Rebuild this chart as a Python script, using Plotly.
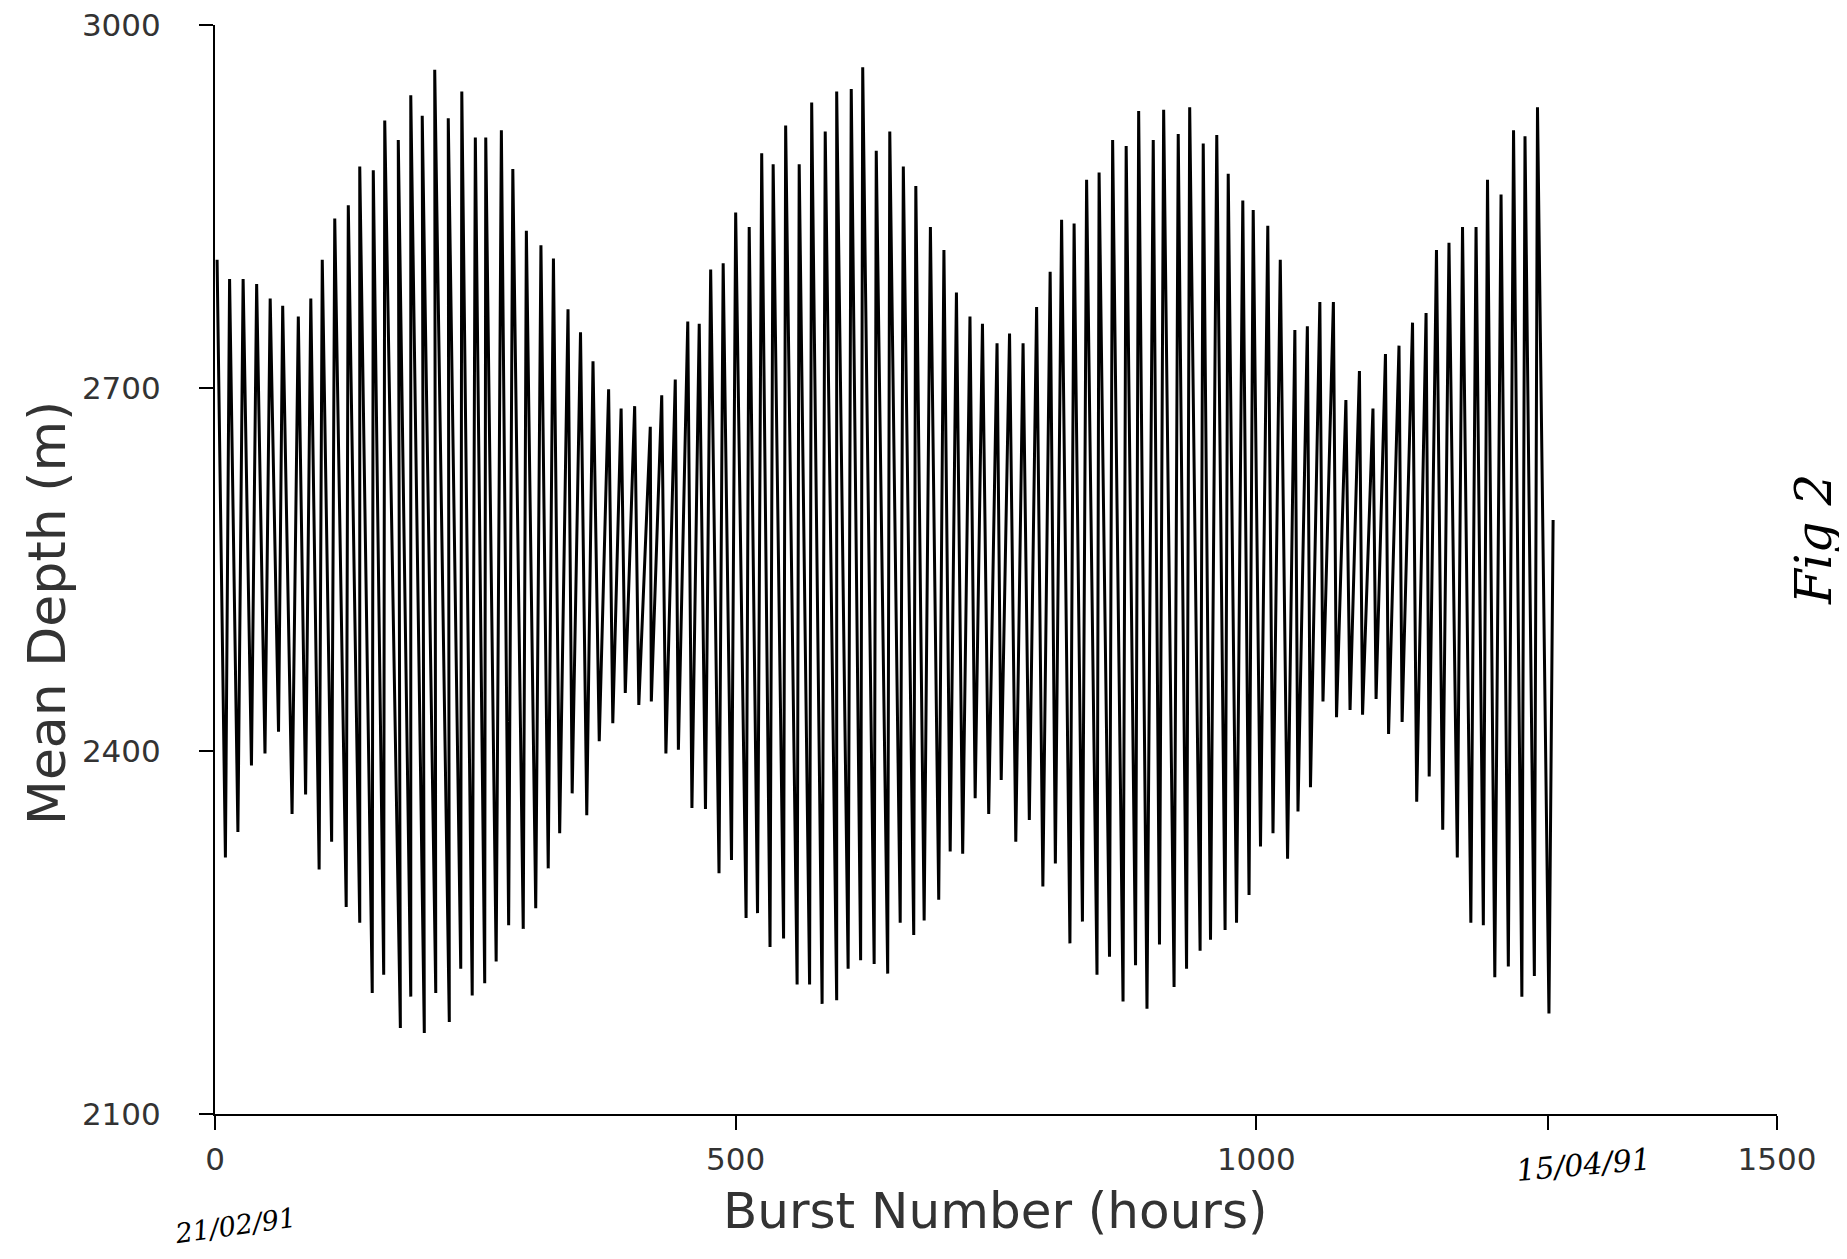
import plotly.graph_objects as go

# ---- data (burst number in hours, mean depth in m) ----
high_hours = [2, 14, 27, 40, 53, 65, 80, 92, 103, 115, 128, 139, 152, 163, 176, 188, 199, 211, 224, 237, 250, 260, 275, 286, 299, 313,
              325, 339, 351, 363, 378, 390, 403, 418, 429, 442, 454, 465, 476, 488, 500, 513, 525, 536, 548, 561, 573, 586, 597, 611, 622, 635,
              648, 661, 673, 687, 700, 712, 725, 737, 751, 763, 776, 789, 802, 813, 825, 837, 849, 862, 875, 887, 901, 911, 925, 936, 949,
              962, 973, 987, 997, 1011, 1023, 1037, 1049, 1061, 1074, 1086, 1099, 1112, 1124, 1137, 1150, 1163, 1173, 1185, 1198, 1211, 1222, 1235, 1247, 1258, 1270, 1285]
high_depth = [2806, 2790, 2790, 2786, 2774, 2768, 2759, 2774, 2806, 2840, 2851, 2883, 2880, 2921, 2905, 2942, 2925, 2963, 2923, 2945, 2907, 2907, 2913, 2881, 2830, 2818,
              2807, 2765, 2746, 2722, 2699, 2683, 2685, 2668, 2694, 2707, 2755, 2753, 2798, 2803, 2845, 2833, 2894, 2885, 2917, 2885, 2936, 2912, 2945, 2947, 2965, 2896,
              2912, 2883, 2867, 2833, 2814, 2779, 2759, 2753, 2737, 2745, 2737, 2767, 2796, 2839, 2836, 2872, 2878, 2905, 2900, 2929, 2905, 2930, 2910, 2932, 2902,
              2909, 2877, 2855, 2847, 2834, 2806, 2748, 2751, 2771, 2771, 2690, 2714, 2683, 2728, 2735, 2754, 2762, 2814, 2820, 2833, 2833, 2872, 2860, 2913, 2908, 2932, 2591]

low_hours = [10, 22, 35, 48, 61, 74, 87, 100, 112, 126, 139, 151, 162, 178, 188, 201, 212, 225, 236, 247, 259, 270, 282, 296, 308,
             320, 331, 343, 357, 369, 382, 394, 407, 419, 433, 445, 458, 471, 484, 496, 510, 521, 533, 546, 559, 571, 583, 597, 608, 620,
             633, 646, 658, 671, 681, 695, 706, 718, 730, 743, 755, 769, 782, 795, 807, 821, 833, 847, 859, 872, 884, 895, 907, 921, 933, 946,
             956, 970, 981, 993, 1004, 1016, 1030, 1040, 1052, 1064, 1077, 1090, 1102, 1115, 1127, 1140, 1154, 1166, 1179, 1193, 1206, 1218, 1229, 1242, 1255, 1267, 1281]
low_depth = [2312, 2333, 2388, 2398, 2416, 2348, 2364, 2302, 2325, 2271, 2258, 2200, 2215, 2171, 2197, 2167, 2200, 2176, 2220, 2198, 2208, 2226, 2256, 2253, 2270,
             2303, 2332, 2365, 2347, 2408, 2423, 2448, 2438, 2441, 2398, 2401, 2353, 2352, 2299, 2310, 2262, 2266, 2238, 2245, 2207, 2207, 2191, 2194, 2220, 2227,
             2224, 2216, 2258, 2248, 2260, 2277, 2317, 2315, 2361, 2348, 2376, 2325, 2343, 2288, 2307, 2241, 2259, 2215, 2230, 2193, 2223, 2187, 2240, 2205, 2220, 2235,
             2244, 2252, 2258, 2281, 2321, 2332, 2311, 2350, 2370, 2441, 2428, 2434, 2430, 2443, 2414, 2424, 2358, 2379, 2335, 2312, 2258, 2256, 2213, 2222, 2197, 2214, 2183]

x_tickvals = [0, 500, 1000, 1280, 1500]
x_ticktext = ["0", "500", "1000", "", "1500"]
y_tickvals = [2100, 2400, 2700, 3000]
start_date = "21/02/91"
end_date = "15/04/91"

# build the tidal trace: high, low, high, low ... in the order read
xs, ys = [], []
for i in range(len(high_hours)):
    xs.append(high_hours[i]); ys.append(high_depth[i])
    if i < len(low_hours):
        xs.append(low_hours[i]); ys.append(low_depth[i])

fig = go.Figure()
fig.add_trace(go.Scatter(x=xs, y=ys, mode="lines",
                         line=dict(color="black", width=3), showlegend=False,
                         hoverinfo="skip"))

tick_font = dict(family="DejaVu Sans", size=31, color="#333333")
fig.update_layout(
    width=1839, height=1251,
    margin=dict(l=207, r=70, t=17, b=145),
    paper_bgcolor="white", plot_bgcolor="white",
    xaxis=dict(range=[0, 1500], tickvals=x_tickvals, ticktext=x_ticktext,
               showline=True, linecolor="black", linewidth=2,
               ticks="outside", ticklen=14, tickwidth=2, tickcolor="black",
               showgrid=False, zeroline=False, tickfont=tick_font,
               ticklabelstandoff=3, automargin=False, ticklabeloverflow="allow"),
    yaxis=dict(range=[2100, 3000], tickvals=y_tickvals,
               showline=True, linecolor="black", linewidth=2,
               ticks="outside", ticklen=14, tickwidth=2, tickcolor="black",
               showgrid=False, zeroline=False, tickfont=tick_font,
               ticklabelstandoff=32, automargin=False, ticklabeloverflow="allow"),
    annotations=[
        dict(text="Mean Depth (m)", xref="paper", yref="paper", x=-0.1076, y=0.46,
             textangle=-90, showarrow=False, xanchor="center", yanchor="middle",
             font=dict(family="DejaVu Sans", size=52, color="#333333")),
        dict(text="Burst Number (hours)", xref="paper", yref="paper", x=0.4994, y=-0.089,
             showarrow=False, xanchor="center", yanchor="middle",
             font=dict(family="DejaVu Sans", size=50, color="#333333")),
        dict(text="<i>" + start_date + "</i>", xref="paper", yref="paper", x=0.0128, y=-0.102,
             showarrow=False, xanchor="center", yanchor="middle", textangle=-8,
             font=dict(family="DejaVu Serif", size=27, color="black")),
        dict(text="<i>" + end_date + "</i>", xref="paper", yref="paper", x=0.8764, y=-0.046,
             showarrow=False, xanchor="center", yanchor="middle", textangle=-5,
             font=dict(family="DejaVu Serif", size=30, color="black")),
        dict(text="<i>Fig 2</i>", xref="paper", yref="paper", x=1.0237, y=0.527,
             showarrow=False, xanchor="center", yanchor="middle", textangle=-90,
             font=dict(family="DejaVu Serif", size=50, color="black")),
    ],
)

fig.write_html("out.html")
